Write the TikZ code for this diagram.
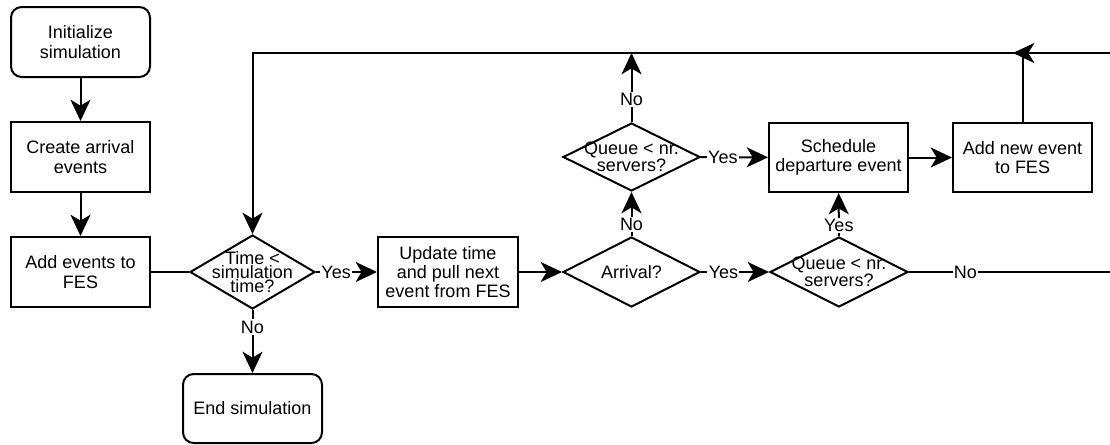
\documentclass[tikz,border=0pt]{standalone}
\usepackage{fontspec}
\setmainfont{Liberation Sans}
\usetikzlibrary{arrows.meta,shapes.geometric}
\begin{document}
\begin{tikzpicture}[x=0.75pt,y=-0.75pt,
  every node/.style={font=\fontsize{13.5}{14.5}\selectfont},
  box/.style={draw, line width=1.5pt, rectangle, inner sep=0pt, minimum width=104.25pt, minimum height=52.5pt, align=center},
  rbox/.style={box, rounded corners=8pt},
  dia/.style={draw, line width=1.5pt, diamond, inner sep=0pt},
  dtext/.style={align=center, inner sep=0pt, font=\fontsize{13.5}{10.3}\selectfont},
  qtext/.style={align=center, inner sep=0pt, font=\fontsize{13.5}{8.5}\selectfont},
  conn/.style={line width=1.5pt},
  arr/.style={conn, -{Stealth[length=16pt,width=15pt,inset=4.5pt]}},
  lab/.style={fill=white, inner sep=1pt, font=\fontsize{13.5}{14}\selectfont}
]
\useasboundingbox (0,0) rectangle (1110,444);
\clip (0,0) rectangle (1110,444);

\node[rbox] (init) at (80.5,42) {Initialize\\simulation};
\node[box] (create) at (80.5,157) {Create arrival\\events};
\node[box] (addev) at (80.5,272) {Add events to\\FES};
\node[dia, minimum width=93.75pt, minimum height=55.5pt,
  label={[dtext]center:Time <\\simulation\\time?}] (time) at (252.5,272) {};
\node[rbox, minimum height=51.75pt] (endsim) at (252.5,408.5) {End simulation};
\node[box, minimum width=105pt] (update) at (448,272) {Update time\\and pull next\\event from FES};
\node[dia, minimum width=102.75pt, minimum height=52.5pt,
  label={[dtext]center:Arrival?}] (arrival) at (631.5,272) {};
\node[dia, minimum width=102.75pt, minimum height=51pt,
  label={[qtext]center:Queue < nr.\\servers?}] (upq) at (631.5,157) {};
\node[dia, minimum width=103.5pt, minimum height=52.5pt,
  label={[qtext]center:Queue < nr.\\servers?}] (lowq) at (839,272) {};
\node[box, minimum height=51.75pt] (sched) at (838.5,157.5) {Schedule\\departure event};
\node[box, minimum height=51.75pt] (addnew) at (1022.5,157.5) {Add new event\\to FES};

\coordinate (tl) at (252.5,53);
\coordinate (upj) at (631.5,53);
\coordinate (rj) at (1013,53);
\coordinate (rlow) at (1120,272);
\coordinate (rhigh) at (1120,53);

\draw[arr] (init) -- (create);
\draw[arr] (create) -- (addev);
\draw[conn] (addev) -- (time);
\draw[arr] (time) -- node[lab, pos=0.33]{Yes} (update);
\draw[arr] (time) -- node[lab, pos=0.27]{No} (endsim);
\draw[arr] (update) -- (arrival);
\draw[arr] (arrival) -- node[lab, pos=0.33]{Yes} (lowq);
\draw[arr] (arrival) -- node[lab, pos=0.26]{No} (upq);
\draw[arr] (upq) -- node[lab, pos=0.33]{No} (upj);
\draw[arr] (upq) -- node[lab, pos=0.33]{Yes} (sched);
\draw[arr] (lowq) -- node[lab, pos=0.24]{Yes} (sched);
\draw[arr] (sched) -- (addnew);
\draw[arr] (addnew.north) |- (tl) -- (time.north);
\draw[arr] (lowq.east) -- node[lab, pos=0.267]{No} (rlow) -- (rhigh) -- (rj);
\end{tikzpicture}
\end{document}
